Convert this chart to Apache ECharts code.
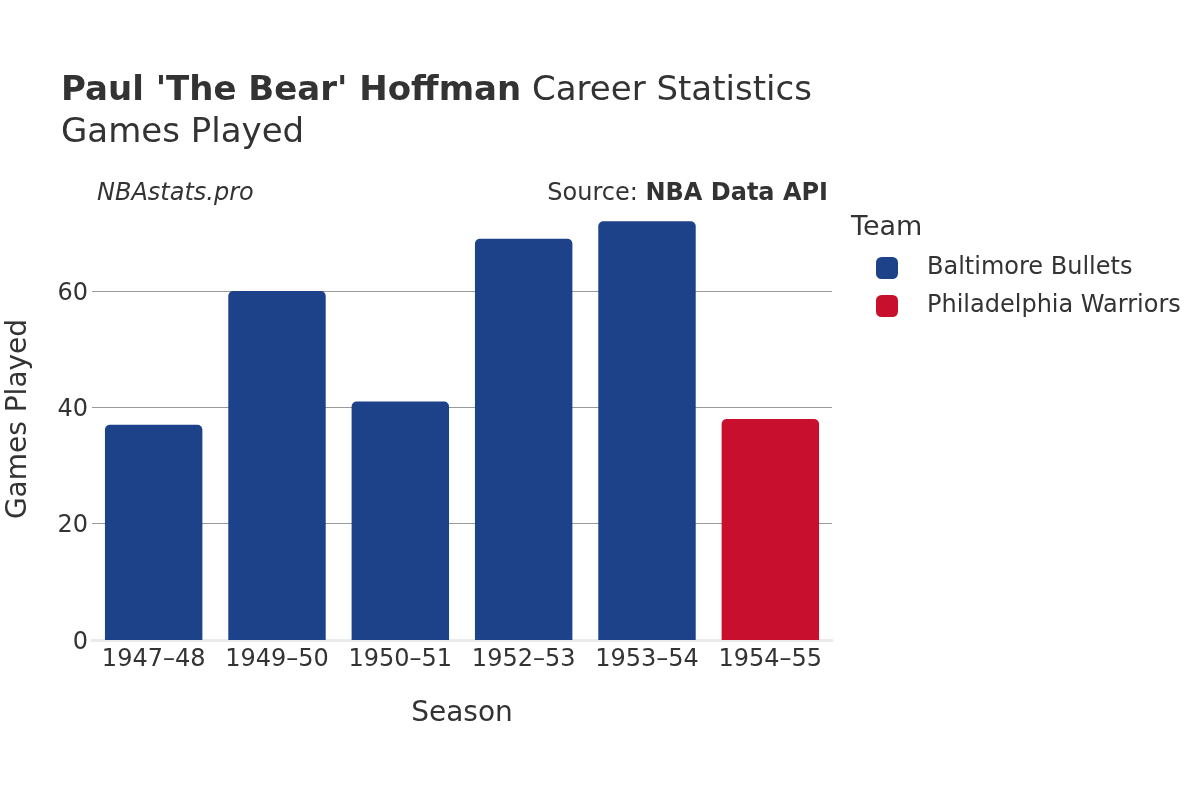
<!DOCTYPE html>
<html>
<head>
<meta charset="utf-8">
<script src="https://cdn.jsdelivr.net/npm/echarts@6/dist/echarts.min.js"></script>
<style>
  body { margin: 0; background: #fff; }
  #chart { width: 1200px; height: 800px; }
</style>
</head>
<body>
<div id="chart"></div>
<script>
var seasons = ['1947–48', '1949–50', '1950–51', '1952–53', '1953–54', '1954–55'];
var bulletsGames = [37, 60, 41, 69, 72, null];
var warriorsGames = [null, null, null, null, null, 38];
var yTicks = [0, 20, 40, 60];

var font = 'DejaVu Sans';

document.addEventListener("DOMContentLoaded", () => {
    var chart = echarts.init(document.querySelector("#chart"));
    chart.setOption({
        animation: false,
        textStyle: { fontFamily: font },
        title: {
            left: 56,
            top: 69,
            itemGap: 8,
            text: '{b|Paul \'The Bear\' Hoffman}{n| Career Statistics}',
            subtext: 'Games Played',
            textStyle: {
                rich: {
                    b: { fontFamily: font, fontSize: 34, fontWeight: 'bold', color: '#333' },
                    n: { fontFamily: font, fontSize: 34, fontWeight: 'normal', color: '#333' }
                }
            },
            subtextStyle: { fontFamily: font, fontSize: 34, color: '#333' }
        },
        legend: {
            left: 871,
            top: 251,
            orient: 'vertical',
            itemWidth: 22,
            itemHeight: 22,
            itemGap: 14,
            icon: 'roundRect',
            data: ['Baltimore Bullets', 'Philadelphia Warriors'],
            textStyle: { fontFamily: font, fontSize: 24, color: '#333', padding: [3, 0, 0, 24] }
        },
        graphic: [
            { type: 'text', left: 851, top: 214, style: { text: 'Team', fontFamily: font, fontSize: 27, fill: '#333' } },
            { type: 'text', left: 97, top: 182, style: { text: 'NBAstats.pro', fontFamily: font, fontSize: 24, fontStyle: 'italic', fill: '#333' } },
            { type: 'text', right: 372, top: 182, style: {
                text: '{n|Source: }{b|NBA Data API}',
                rich: {
                    n: { fontFamily: font, fontSize: 24, fill: '#333' },
                    b: { fontFamily: font, fontSize: 24, fontWeight: 'bold', fill: '#333' }
                }
            } }
        ],
        grid: { left: 92, right: 368, top: 198, bottom: 160, outerBoundsMode: 'none' },
        xAxis: {
            type: 'category',
            data: seasons,
            name: 'Season',
            nameLocation: 'middle',
            nameGap: 60,
            nameTextStyle: { fontFamily: font, fontSize: 28, color: '#333' },
            axisLine: { show: true, lineStyle: { color: '#ebebeb', width: 3 } },
            axisTick: { show: false },
            axisLabel: { interval: 0, fontFamily: font, fontSize: 24, color: '#333', margin: 8 }
        },
        yAxis: {
            type: 'value',
            min: 0,
            max: 76,
            interval: 20,
            name: 'Games Played',
            nameLocation: 'middle',
            nameGap: 59,
            nameTextStyle: { fontFamily: font, fontSize: 28, color: '#333' },
            axisLine: { show: false },
            axisTick: { show: false },
            axisLabel: {
                margin: 4,
                formatter: function (v) { return yTicks.indexOf(v) >= 0 ? '{v|' + v + '}' : ''; },
                rich: {
                    v: { fontFamily: font, fontSize: 24, color: '#333', padding: [5, 0, 0, 0] }
                }
            },
            splitLine: { lineStyle: { color: ['transparent', '#999', '#999', '#999', 'transparent'], width: 1 } }
        },
        series: [{
            name: 'Baltimore Bullets',
            type: 'bar',
            data: bulletsGames,
            barWidth: '79%',
            barGap: '-100%',
            itemStyle: { color: '#1d428a', borderRadius: [5, 5, 0, 0] }
        },
        {
            name: 'Philadelphia Warriors',
            type: 'bar',
            data: warriorsGames,
            barWidth: '79%',
            itemStyle: { color: '#c8102e', borderRadius: [5, 5, 0, 0] }
        }
        ]
    });
});
</script>
</body>
</html>
